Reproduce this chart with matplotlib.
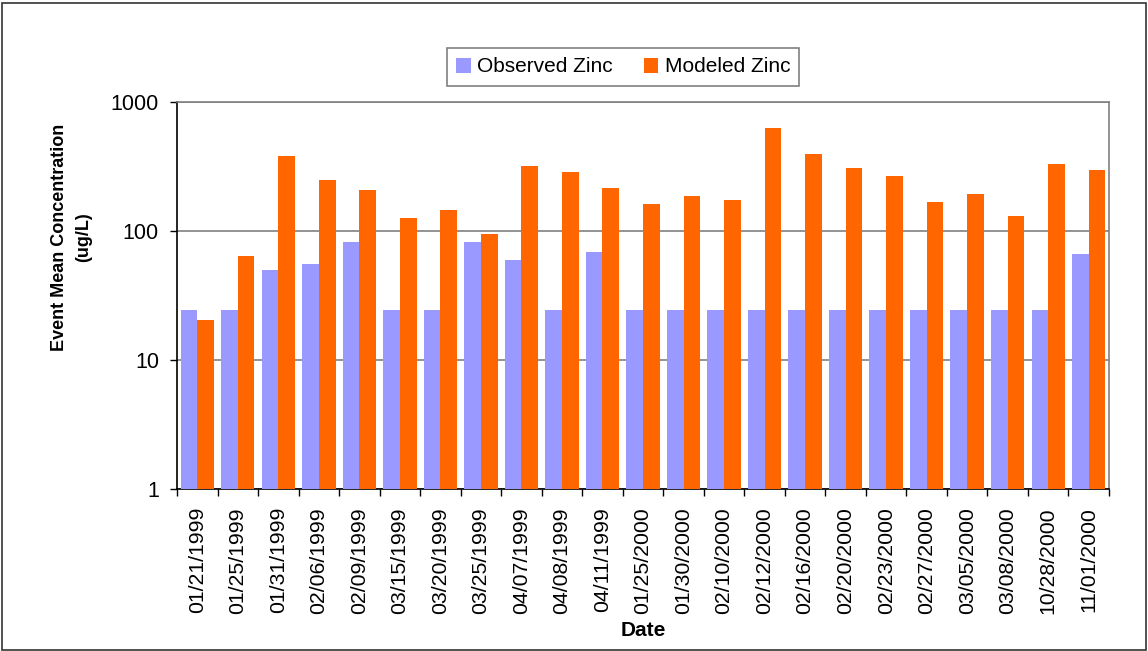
import numpy as np
import matplotlib.pyplot as plt
from matplotlib.patches import Rectangle

plt.rcParams['font.family'] = ['Liberation Sans', 'DejaVu Sans']

dates = ['01/21/1999', '01/25/1999', '01/31/1999', '02/06/1999', '02/09/1999',
         '03/15/1999', '03/20/1999', '03/25/1999', '04/07/1999', '04/08/1999',
         '04/11/1999', '01/25/2000', '01/30/2000', '02/10/2000', '02/12/2000',
         '02/16/2000', '02/20/2000', '02/23/2000', '02/27/2000', '03/05/2000',
         '03/08/2000', '10/28/2000', '11/01/2000']
observed = [24.5, 24.5, 50, 55.5, 82, 24.5, 24.5, 82, 60, 24.5, 69, 24.5,
            24.5, 24.5, 24.5, 24.5, 24.5, 24.5, 24.5, 24.5, 24.5, 24.5, 66]
modeled = [20.4, 64, 381, 248, 208, 126, 145, 95, 319, 287, 215, 162,
           187, 174, 629, 395, 308, 267, 168, 194, 131, 331, 297]

obs_color = '#9999FF'
mod_color = '#FF6600'

fig = plt.figure(figsize=(11.48, 6.51), dpi=100)
ax = fig.add_axes([177/1148, 1 - 489/651, (1109 - 177)/1148, (489 - 102)/651])

x = np.arange(len(dates))
w = 0.412
ax.bar(x - w/2, observed, w, color=obs_color, label='Observed Zinc', zorder=3)
ax.bar(x + w/2, modeled, w, color=mod_color, label='Modeled Zinc', zorder=3)

ax.set_yscale('log')
ax.set_ylim(1, 1000)
ax.set_xlim(-0.5, len(dates) - 0.5)
ax.set_yticks([1, 10, 100, 1000])
ax.set_yticklabels(['1', '10', '100', '1000'], fontsize=15.5)
ax.yaxis.set_minor_locator(plt.NullLocator())
ax.yaxis.grid(True, which='major', color='#808080', linewidth=1.2, zorder=0)

ax.set_xticks(x)
ax.set_xticklabels(dates, rotation=90, fontsize=15.3)
ax.set_xticks(np.arange(len(dates) + 1) - 0.5, minor=True)
ax.tick_params(axis='x', which='major', length=0, pad=13)
ax.tick_params(axis='x', which='minor', length=5, width=1, direction='out')
ax.tick_params(axis='y', which='major', length=5, width=1, direction='out', pad=8)

ax.spines['top'].set_color('#808080')
ax.spines['right'].set_color('#808080')
ax.spines['left'].set_color('black')
ax.spines['bottom'].set_color('black')
for s in ax.spines.values():
    s.set_linewidth(1.2)

fig.text(72/1148, 1 - 237/651, 'Event Mean Concentration\n(ug/L)',
         rotation=90, ha='center', va='center', fontsize=13,
         fontweight='bold', multialignment='center', linespacing=1.55)
fig.text(643/1148, 1 - 631/651, 'Date', ha='center', va='center',
         fontsize=15, fontweight='bold')

leg = fig.legend(loc='center', bbox_to_anchor=(623/1148, 1 - 67/651), ncol=2,
                 fontsize=15, frameon=True, fancybox=False, handlelength=0.7,
                 handleheight=0.7, handletextpad=0.3, columnspacing=1.5,
                 borderpad=0.45)
leg.get_frame().set_edgecolor('#606060')
leg.get_frame().set_linewidth(1.2)

fig.add_artist(Rectangle((1.5/1148, 1.5/651), 1144/1148, 647/651,
                         transform=fig.transFigure, fill=False,
                         edgecolor='#333333', linewidth=1.2))

fig.savefig('out.png', dpi=100)
